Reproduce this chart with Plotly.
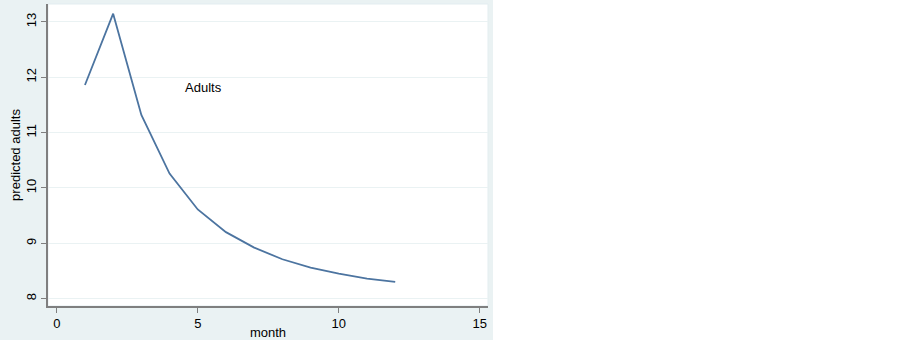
import plotly.graph_objects as go

months = [1, 2, 3, 4, 5, 6, 7, 8, 9, 10, 11, 12]
predicted_adults = [11.86, 13.15, 11.32, 10.26, 9.61, 9.20, 8.92, 8.71, 8.56, 8.45, 8.36, 8.30]
x_ticks = [0, 5, 10, 15]
y_ticks = [8, 9, 10, 11, 12, 13]
label_text = "Adults"
label_pos = (5.2, 11.82)

W, H = 493, 340
L, R, T, B = 48, 488, 4, 306

fig = go.Figure()
fig.add_trace(go.Scatter(x=months, y=predicted_adults, mode="lines",
                         line=dict(color="#4C74A0", width=1.8), showlegend=False,
                         hoverinfo="skip"))

fig.add_annotation(x=label_pos[0], y=label_pos[1], text=label_text, showarrow=False,
                   font=dict(family="Liberation Sans, Arial", size=13, color="#000000"))

# light border around plot region
fig.add_shape(type="rect", xref="paper", yref="paper", layer="below",
              x0=0, x1=1, y0=0, y1=1,
              fillcolor="rgba(0,0,0,0)", line=dict(color="#E3EDF0", width=1))

font = dict(family="Liberation Sans, Arial", size=13, color="#000000")
fig.update_layout(
    width=W, height=H,
    margin=dict(l=L, r=W - R, t=T, b=H - B, pad=0, autoexpand=False),
    paper_bgcolor="#EAF2F3", plot_bgcolor="#FFFFFF",
    font=font,
    xaxis=dict(range=[-0.31, 15.29], tickvals=x_ticks, ticks="outside", ticklen=5,
               tickcolor="#7F7F7F", showline=True, linecolor="#7F7F7F", linewidth=1.5,
               showgrid=False, zeroline=False, tickfont=font, automargin=False,
               title=dict(text="month", font=font, standoff=0)),
    yaxis=dict(range=[7.865, 13.325], tickvals=y_ticks, ticks="outside", ticklen=5,
               tickcolor="#7F7F7F", showline=True, linecolor="#7F7F7F", linewidth=1.5,
               showgrid=True, gridcolor="#EAF2F3", gridwidth=1, zeroline=False,
               tickangle=-90, tickfont=font, automargin=False,
               title=dict(text="predicted adults", font=font, standoff=0)),
)

fig.write_html("out.html", config={"displayModeBar": False},
               post_script="document.body.style.margin='0';document.body.style.background='#FFFFFF';")
